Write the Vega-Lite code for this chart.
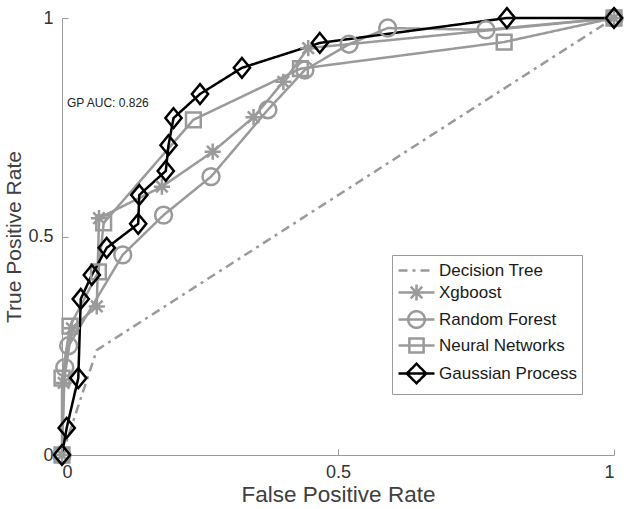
{
  "$schema": "https://vega.github.io/schema/vega-lite/v6.json",
  "width": 552,
  "height": 437,
  "autosize": {"type": "none"},
  "padding": {"left": 62, "top": 18, "right": 15, "bottom": 54},
  "background": "white",
  "config": {
    "font": "Liberation Sans",
    "view": {"stroke": null},
    "axis": {
      "grid": false,
      "domainColor": "#9a9a9a",
      "domainWidth": 1,
      "tickColor": "#9a9a9a",
      "tickSize": -6,
      "labelFontSize": 18,
      "labelColor": "#333333",
      "titleFontWeight": "normal",
      "titleColor": "#404040",
      "labelFont": "Liberation Sans",
      "titleFont": "Liberation Sans"
    },
    "legend": {
      "labelFontSize": 17,
      "labelColor": "#1a1a1a",
      "labelFont": "Liberation Sans",
      "symbolSize": 324,
      "symbolStrokeWidth": 2.5,
      "rowPadding": 0,
      "padding": 5,
      "symbolOffset": 9,
      "labelOffset": 12,
      "fillColor": "white",
      "strokeColor": "#9a9a9a",
      "symbolOpacity": 1
    }
  },
  "datasets": {
    "roc": [
      {"model": "Decision Tree", "i": 0, "fpr": 0, "tpr": 0},
      {"model": "Decision Tree", "i": 1, "fpr": 0.063, "tpr": 0.24},
      {"model": "Decision Tree", "i": 2, "fpr": 1, "tpr": 1},

      {"model": "Xgboost", "i": 0, "fpr": 0, "tpr": 0},
      {"model": "Xgboost", "i": 1, "fpr": 0.003, "tpr": 0.165},
      {"model": "Xgboost", "i": 2, "fpr": 0.018, "tpr": 0.29},
      {"model": "Xgboost", "i": 3, "fpr": 0.063, "tpr": 0.34},
      {"model": "Xgboost", "i": 4, "fpr": 0.067, "tpr": 0.542},
      {"model": "Xgboost", "i": 5, "fpr": 0.181, "tpr": 0.614},
      {"model": "Xgboost", "i": 6, "fpr": 0.273, "tpr": 0.694},
      {"model": "Xgboost", "i": 7, "fpr": 0.347, "tpr": 0.773},
      {"model": "Xgboost", "i": 8, "fpr": 0.401, "tpr": 0.854},
      {"model": "Xgboost", "i": 9, "fpr": 0.446, "tpr": 0.931},
      {"model": "Xgboost", "i": 10, "fpr": 1, "tpr": 1},

      {"model": "Random Forest", "i": 0, "fpr": 0, "tpr": 0},
      {"model": "Random Forest", "i": 1, "fpr": 0.005, "tpr": 0.2},
      {"model": "Random Forest", "i": 2, "fpr": 0.012, "tpr": 0.25},
      {"model": "Random Forest", "i": 3, "fpr": 0.11, "tpr": 0.458},
      {"model": "Random Forest", "i": 4, "fpr": 0.184, "tpr": 0.549},
      {"model": "Random Forest", "i": 5, "fpr": 0.27, "tpr": 0.637},
      {"model": "Random Forest", "i": 6, "fpr": 0.373, "tpr": 0.79},
      {"model": "Random Forest", "i": 7, "fpr": 0.44, "tpr": 0.881},
      {"model": "Random Forest", "i": 8, "fpr": 0.52, "tpr": 0.94},
      {"model": "Random Forest", "i": 9, "fpr": 0.59, "tpr": 0.977},
      {"model": "Random Forest", "i": 10, "fpr": 0.768, "tpr": 0.973},
      {"model": "Random Forest", "i": 11, "fpr": 1, "tpr": 1},

      {"model": "Neural Networks", "i": 0, "fpr": 0, "tpr": 0},
      {"model": "Neural Networks", "i": 1, "fpr": 0, "tpr": 0.176},
      {"model": "Neural Networks", "i": 2, "fpr": 0.0145, "tpr": 0.295},
      {"model": "Neural Networks", "i": 3, "fpr": 0.066, "tpr": 0.419},
      {"model": "Neural Networks", "i": 4, "fpr": 0.0755, "tpr": 0.531},
      {"model": "Neural Networks", "i": 5, "fpr": 0.238, "tpr": 0.767},
      {"model": "Neural Networks", "i": 6, "fpr": 0.432, "tpr": 0.884},
      {"model": "Neural Networks", "i": 7, "fpr": 0.801, "tpr": 0.945},
      {"model": "Neural Networks", "i": 8, "fpr": 1, "tpr": 1},

      {"model": "Gaussian Process", "i": 0, "fpr": 0, "tpr": 0},
      {"model": "Gaussian Process", "i": 1, "fpr": 0.0085, "tpr": 0.062},
      {"model": "Gaussian Process", "i": 2, "fpr": 0.0295, "tpr": 0.176},
      {"model": "Gaussian Process", "i": 3, "fpr": 0.034, "tpr": 0.357},
      {"model": "Gaussian Process", "i": 4, "fpr": 0.054, "tpr": 0.412},
      {"model": "Gaussian Process", "i": 5, "fpr": 0.081, "tpr": 0.474},
      {"model": "Gaussian Process", "i": 6, "fpr": 0.138, "tpr": 0.529},
      {"model": "Gaussian Process", "i": 7, "fpr": 0.14, "tpr": 0.595},
      {"model": "Gaussian Process", "i": 8, "fpr": 0.188, "tpr": 0.65},
      {"model": "Gaussian Process", "i": 9, "fpr": 0.193, "tpr": 0.709},
      {"model": "Gaussian Process", "i": 10, "fpr": 0.202, "tpr": 0.771},
      {"model": "Gaussian Process", "i": 11, "fpr": 0.25, "tpr": 0.826},
      {"model": "Gaussian Process", "i": 12, "fpr": 0.326, "tpr": 0.886},
      {"model": "Gaussian Process", "i": 13, "fpr": 0.467, "tpr": 0.943},
      {"model": "Gaussian Process", "i": 14, "fpr": 0.806, "tpr": 1},
      {"model": "Gaussian Process", "i": 15, "fpr": 1, "tpr": 1}
    ],
    "note": [
      {"fpr": 0.009, "tpr": 0.805, "label": "GP AUC: 0.826"}
    ]
  },
  "layer": [
    {
      "data": {"name": "roc"},
      "mark": {"type": "line", "strokeWidth": 2.5, "clip": false},
      "encoding": {
        "x": {"field": "fpr", "type": "quantitative", "scale": {"domain": [0, 1], "nice": false},
              "axis": {"values": [0, 0.5, 1], "format": "~g", "title": "False Positive Rate", "titleFontSize": 22.5, "labelPadding": 14, "titlePadding": 2}},
        "y": {"field": "tpr", "type": "quantitative", "scale": {"domain": [0, 1], "nice": false},
              "axis": {"values": [0, 0.5, 1], "format": "~g", "title": "True Positive Rate", "titleFontSize": 21, "labelPadding": 15, "titlePadding": 3}},
        "order": {"field": "i", "type": "quantitative"},
        "color": {"field": "model", "type": "nominal",
                  "scale": {"domain": ["Decision Tree", "Xgboost", "Random Forest", "Neural Networks", "Gaussian Process"],
                            "range": ["#9a9a9a", "#9a9a9a", "#9a9a9a", "#9a9a9a", "#000000"]},
                  "legend": {"title": null, "orient": "none", "legendX": 330, "legendY": 237}},
        "strokeDash": {"field": "model", "type": "nominal",
                  "scale": {"domain": ["Decision Tree", "Xgboost", "Random Forest", "Neural Networks", "Gaussian Process"],
                            "range": [[9, 5, 3, 5], [1, 0], [1, 0], [1, 0], [1, 0]]},
                  "legend": {"title": null, "orient": "none", "legendX": 330, "legendY": 237}}
      }
    },
    {
      "data": {"name": "roc"},
      "transform": [{"filter": "datum.model === 'Xgboost'"}],
      "mark": {"type": "point", "filled": false, "strokeWidth": 2.5, "size": 324, "opacity": 1, "clip": false,
               "shape": "M0,-0.9L0,0.9M-0.9,0L0.9,0M-0.64,-0.64L0.64,0.64M-0.64,0.64L0.64,-0.64"},
      "encoding": {
        "x": {"field": "fpr", "type": "quantitative"},
        "y": {"field": "tpr", "type": "quantitative"},
        "color": {"field": "model", "type": "nominal"}
      }
    },
    {
      "data": {"name": "roc"},
      "transform": [{"filter": "datum.model === 'Random Forest'"}],
      "mark": {"type": "point", "filled": false, "strokeWidth": 2.5, "size": 324, "opacity": 1, "clip": false,
               "shape": "M-0.94,0A0.94,0.94,0,1,0,0.94,0A0.94,0.94,0,1,0,-0.94,0Z"},
      "encoding": {
        "x": {"field": "fpr", "type": "quantitative"},
        "y": {"field": "tpr", "type": "quantitative"},
        "color": {"field": "model", "type": "nominal"}
      }
    },
    {
      "data": {"name": "roc"},
      "transform": [{"filter": "datum.model === 'Neural Networks'"}],
      "mark": {"type": "point", "filled": false, "strokeWidth": 2.5, "size": 324, "opacity": 1, "clip": false,
               "shape": "M-0.82,-0.82L0.82,-0.82L0.82,0.82L-0.82,0.82Z"},
      "encoding": {
        "x": {"field": "fpr", "type": "quantitative"},
        "y": {"field": "tpr", "type": "quantitative"},
        "color": {"field": "model", "type": "nominal"}
      }
    },
    {
      "data": {"name": "roc"},
      "transform": [{"filter": "datum.model === 'Gaussian Process'"}],
      "mark": {"type": "point", "filled": false, "strokeWidth": 2.5, "size": 324, "opacity": 1, "clip": false,
               "shape": "M0,-1.1L0.9,0L0,1.1L-0.9,0Z"},
      "encoding": {
        "x": {"field": "fpr", "type": "quantitative"},
        "y": {"field": "tpr", "type": "quantitative"},
        "color": {"field": "model", "type": "nominal"}
      }
    },
    {
      "data": {"name": "roc"},
      "transform": [{"filter": "false"}],
      "mark": {"type": "point", "filled": false, "strokeWidth": 2.5, "opacity": 1},
      "encoding": {
        "x": {"field": "fpr", "type": "quantitative"},
        "y": {"field": "tpr", "type": "quantitative"},
        "color": {"field": "model", "type": "nominal"},
        "shape": {"field": "model", "type": "nominal",
                  "scale": {"domain": ["Decision Tree", "Xgboost", "Random Forest", "Neural Networks", "Gaussian Process"],
                            "range": ["M-2,0L2,0",
                                      "M-2,0L2,0M0,-0.88L0,0.88M-0.64,-0.64L0.64,0.64M-0.64,0.64L0.64,-0.64",
                                      "M-2,0L2,0M-0.92,0A0.92,0.92,0,1,0,0.92,0A0.92,0.92,0,1,0,-0.92,0Z",
                                      "M-2,0L2,0M-0.79,-0.79L0.79,-0.79L0.79,0.79L-0.79,0.79Z",
                                      "M-2,0L2,0M0,-1.08L1.08,0L0,1.08L-1.08,0Z"]},
                  "legend": {"title": null, "orient": "none", "legendX": 330, "legendY": 237}}
      }
    },
    {
      "data": {"name": "note"},
      "mark": {"type": "text", "align": "left", "baseline": "middle", "fontSize": 12, "color": "#222222", "font": "Liberation Sans"},
      "encoding": {
        "x": {"field": "fpr", "type": "quantitative"},
        "y": {"field": "tpr", "type": "quantitative"},
        "text": {"field": "label", "type": "nominal"}
      }
    }
  ]
}
